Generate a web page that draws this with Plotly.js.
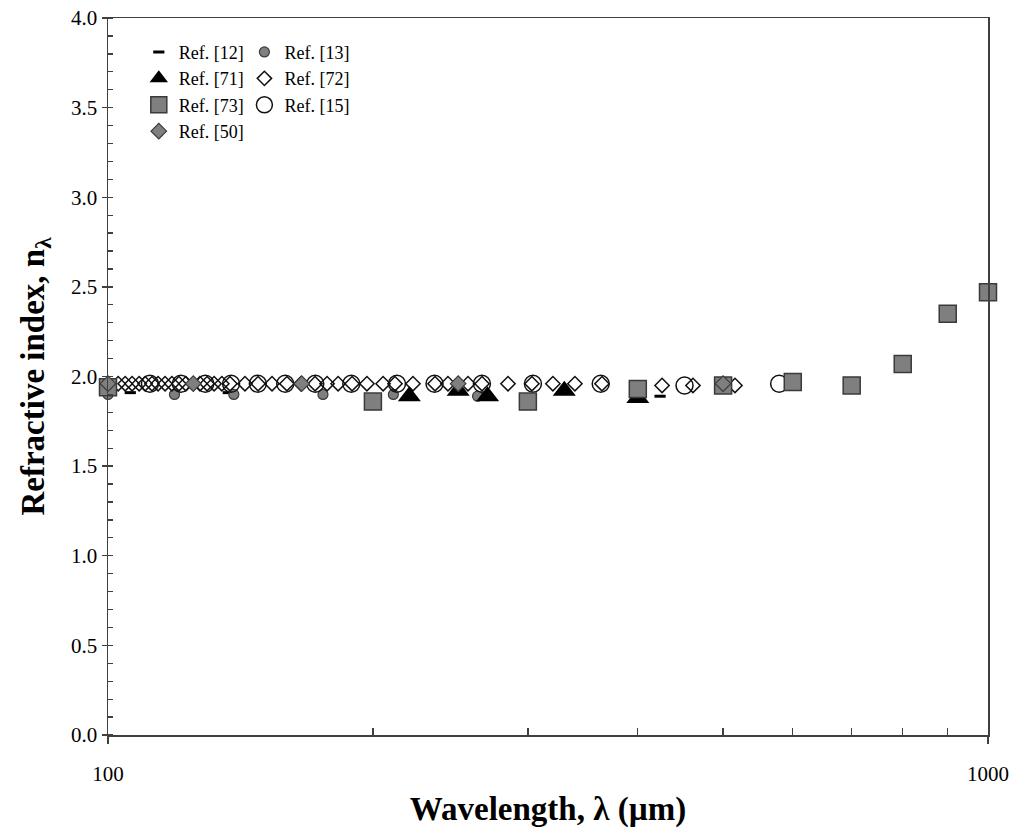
<!DOCTYPE html>
<html>
<head>
<meta charset="utf-8">
<script src="https://cdn.plot.ly/plotly-3.0.1.min.js"></script>
<style>
html,body{margin:0;padding:0;background:#fff;}
#chart{width:1015px;height:828px;}
</style>
</head>
<body>
<div id="chart"></div>
<script>
// ---- data ----
const ref12_x = [106, 137, 424];
const ref12_y = [1.91, 1.91, 1.89];

const ref13_x = [100, 119, 139, 175.5, 211, 263];
const ref13_y = [1.90, 1.90, 1.90, 1.90, 1.90, 1.89];

const ref71_x = [220, 250, 270, 330, 400];
const ref71_y = [1.89, 1.92, 1.89, 1.92, 1.88];

const ref72_x = [102.7, 104.6, 106.5, 108.5, 110.2, 112.2, 114.0, 116.1, 118.2, 120.4, 122.6,
                 127.2, 129.6, 132.0, 134.7, 137.6, 143.1, 148.1, 153.6, 159.7, 165.7, 171.9,
                 177.4, 182.6, 189.4, 196.9, 205.4, 211.9, 222.1, 235.3, 243.4, 256.5, 266.1,
                 284.8, 303.2, 320.3, 339.3, 364.2, 426.2, 462.1, 515.8];
const ref72_y = [1.96, 1.96, 1.96, 1.96, 1.96, 1.96, 1.96, 1.96, 1.96, 1.96, 1.96,
                 1.96, 1.96, 1.96, 1.96, 1.96, 1.96, 1.96, 1.96, 1.96, 1.96, 1.96,
                 1.96, 1.96, 1.96, 1.96, 1.96, 1.96, 1.96, 1.96, 1.96, 1.96, 1.96,
                 1.96, 1.96, 1.96, 1.96, 1.96, 1.95, 1.95, 1.95];

const ref73_x = [100, 200, 300, 400, 500, 600, 700, 800, 900, 1000];
const ref73_y = [1.94, 1.86, 1.86, 1.93, 1.95, 1.97, 1.95, 2.07, 2.35, 2.47];

const ref15_x = [111.6, 121, 129, 138, 148, 159, 172, 189, 213, 235, 266, 304, 363, 452, 579];
const ref15_y = [1.96, 1.96, 1.96, 1.96, 1.96, 1.96, 1.96, 1.96, 1.96, 1.96, 1.96, 1.96, 1.96, 1.95, 1.96];

const ref50_x = [100, 125, 166, 250, 500];
const ref50_y = [1.96, 1.96, 1.96, 1.96, 1.96];

const seriesNames = ['Ref. [12]', 'Ref. [13]', 'Ref. [71]', 'Ref. [72]', 'Ref. [73]', 'Ref. [15]', 'Ref. [50]'];
const yTickVals = [0, 0.5, 1, 1.5, 2, 2.5, 3, 3.5, 4];
const xTickVals = [100, 1000];
const xTickText = ['100', '1000'];
const xMinorVals = [200, 300, 400, 500, 600, 700, 800, 900];

// ---- styling ----
const GRAY = '#7f7f7f';
const EDGE = '#3a3a3a';
const AX = '#404040';
const FONT = 'Liberation Serif';

const traces = [
  {x: ref12_x, y: ref12_y, name: seriesNames[0], type: 'scatter', mode: 'markers', legend: 'legend', legendrank: 1, cliponaxis: false,
   marker: {symbol: 'line-ew', size: 8, line: {color: '#000', width: 3}}},
  {x: ref13_x, y: ref13_y, name: seriesNames[1], type: 'scatter', mode: 'markers', legend: 'legend2', legendrank: 1, cliponaxis: false,
   marker: {symbol: 'circle', size: 10, color: GRAY, line: {color: EDGE, width: 1.2}}},
  {x: ref15_x, y: ref15_y, name: seriesNames[5], type: 'scatter', mode: 'markers', legend: 'legend2', legendrank: 3, cliponaxis: false,
   marker: {symbol: 'circle-open', size: 17, color: '#111', line: {color: '#111', width: 1.5}}},
  {x: ref72_x, y: ref72_y, name: seriesNames[3], type: 'scatter', mode: 'markers', legend: 'legend2', legendrank: 2, cliponaxis: false,
   marker: {symbol: 'diamond-open', size: 11, color: '#111', line: {color: '#111', width: 1.5}}},
  {x: ref71_x, y: ref71_y, name: seriesNames[2], type: 'scatter', mode: 'markers', legend: 'legend', legendrank: 2, cliponaxis: false,
   marker: {symbol: 'triangle-up', size: 20, color: '#000', line: {color: '#000', width: 0}}},
  {x: ref73_x, y: ref73_y, name: seriesNames[4], type: 'scatter', mode: 'markers', legend: 'legend', legendrank: 3, cliponaxis: false,
   marker: {symbol: 'square', size: 17, color: GRAY, line: {color: EDGE, width: 1.5}}},
  {x: ref50_x, y: ref50_y, name: seriesNames[6], type: 'scatter', mode: 'markers', legend: 'legend', legendrank: 4, cliponaxis: false,
   marker: {symbol: 'diamond', size: 12, color: GRAY, line: {color: EDGE, width: 1.2}}},
  // invisible trace that carries the inside half of the y major ticks
  {x: [100], y: [0], yaxis: 'y2', xaxis: 'x2', type: 'scatter', mode: 'markers', showlegend: false,
   hoverinfo: 'skip', marker: {opacity: 0}}
];

const layout = {
  width: 1015, height: 828,
  margin: {l: 108, r: 27, t: 18, b: 93},
  paper_bgcolor: '#fff', plot_bgcolor: '#fff',
  font: {family: FONT, color: '#000', size: 16},
  showlegend: true,
  xaxis: {
    type: 'log', range: [2, 3],
    tickmode: 'array', tickvals: xTickVals, ticktext: xTickText,
    ticks: 'outside', ticklen: 7, tickwidth: 1.3, tickcolor: AX,
    ticklabelstandoff: 12,
    showline: true, linecolor: AX, linewidth: 1.5, mirror: true,
    showgrid: false, zeroline: false,
    tickfont: {family: FONT, size: 21, color: '#000'},
    minor: {tickmode: 'array', tickvals: xMinorVals, ticks: 'inside', ticklen: 7, tickwidth: 1.3, tickcolor: AX, showgrid: false},
    title: {text: 'Wavelength, λ (µm)', font: {family: FONT, size: 33, weight: 'bold', color: '#000'}, standoff: 13}
  },
  xaxis2: {type: 'log', range: [2, 3], overlaying: 'x', visible: false},
  yaxis: {
    range: [0, 4],
    tickmode: 'array', tickvals: yTickVals, tickformat: '.1f',
    ticks: 'outside', ticklen: 5, tickwidth: 1.3, tickcolor: AX,
    showline: true, linecolor: AX, linewidth: 1.5, mirror: true,
    showgrid: false, zeroline: false,
    tickfont: {family: FONT, size: 21, color: '#000'},
    minor: {dtick: 0.1, ticks: 'inside', ticklen: 5, tickwidth: 1.3, tickcolor: AX, showgrid: false},
    title: {text: 'Refractive index, n<sub>λ</sub>', font: {family: FONT, size: 33, weight: 'bold', color: '#000'}, standoff: 16}
  },
  yaxis2: {
    range: [0, 4], overlaying: 'y', side: 'left',
    tickmode: 'array', tickvals: yTickVals, showticklabels: false,
    ticks: 'inside', ticklen: 5, tickwidth: 1.3, tickcolor: AX,
    showline: false, showgrid: false, zeroline: false
  },
  legend: {
    x: 0.035, y: 0.978, xanchor: 'left', yanchor: 'top',
    bgcolor: 'rgba(0,0,0,0)', borderwidth: 0,
    font: {family: FONT, size: 18, color: '#000'},
    traceorder: 'normal', tracegroupgap: 0
  },
  legend2: {
    x: 0.155, y: 0.978, xanchor: 'left', yanchor: 'top',
    bgcolor: 'rgba(0,0,0,0)', borderwidth: 0,
    font: {family: FONT, size: 18, color: '#000'},
    traceorder: 'normal', tracegroupgap: 0
  }
};

Plotly.newPlot('chart', traces, layout, {staticPlot: true, displayModeBar: false});
</script>
</body>
</html>
